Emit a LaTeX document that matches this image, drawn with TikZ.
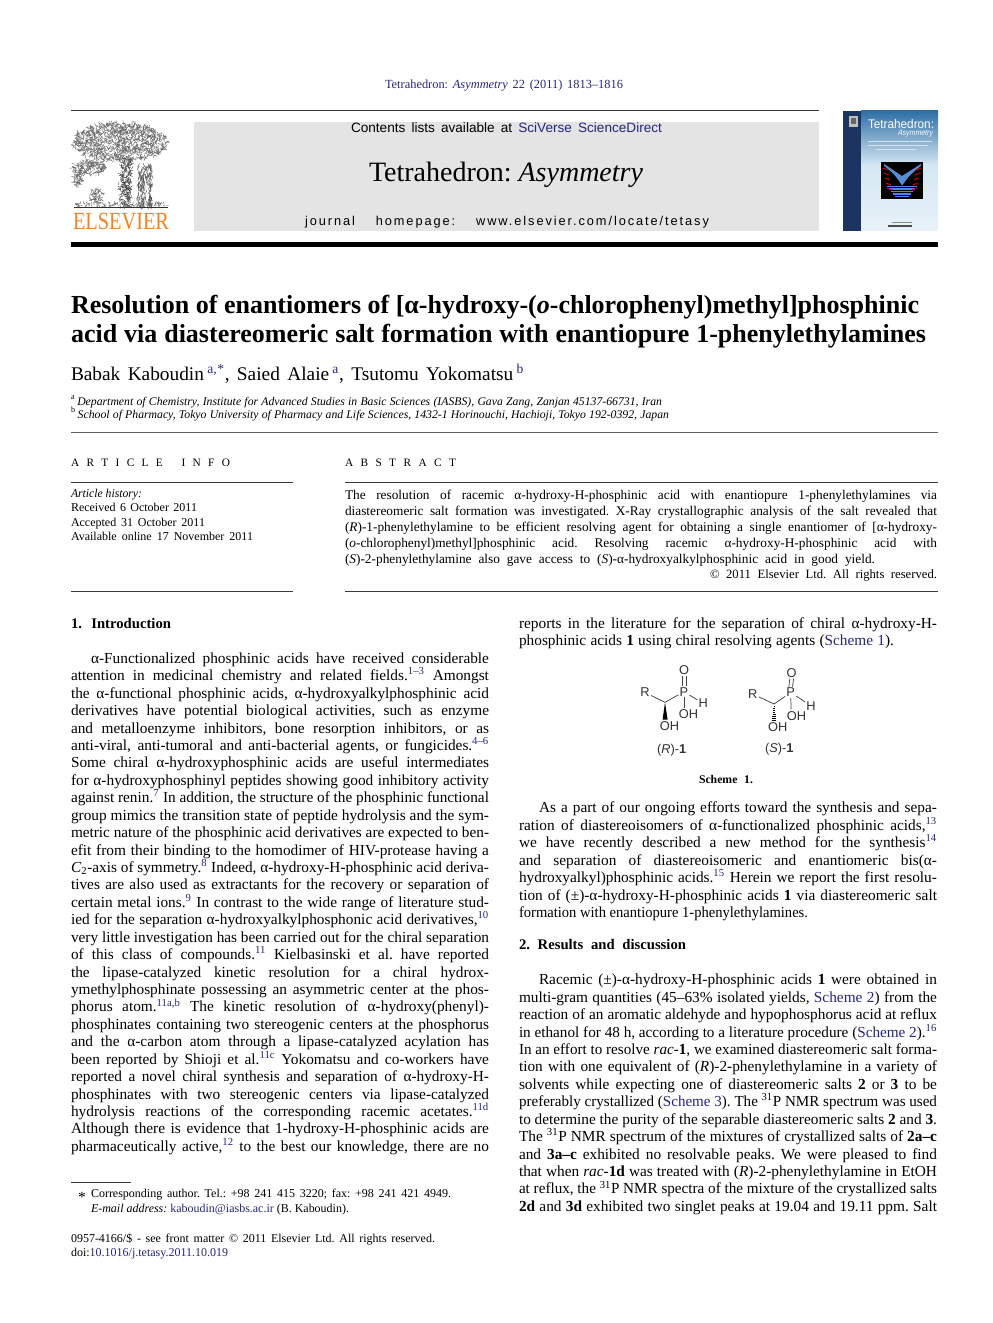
\documentclass[tikz,border=0pt]{standalone}
\usepackage{fontspec}
\usepackage{graphicx}
\setmainfont{Liberation Serif}
\setsansfont{Liberation Sans}
\newfontfamily\spacedsans[LetterSpace=15]{Liberation Sans}
\AtBeginDocument{\frenchspacing}
\definecolor{navy}{HTML}{26267F}
\definecolor{barg}{HTML}{E4E4E4}
\definecolor{rulec}{HTML}{3A3A3A}
\definecolor{elsor}{HTML}{F58220}
\definecolor{cvband}{HTML}{1C3461}
\definecolor{cvtop}{HTML}{2F6FA6}
\definecolor{cvmid}{HTML}{D5E7F3}
\definecolor{cvlow}{HTML}{E8F2F9}
\newcommand{\lk}[1]{\textcolor{navy}{#1}}
\newcommand{\sups}[1]{\textsuperscript{\lk{#1}}}
\newsavebox\lbx
\newcounter{tn}
\def\dy{0}
% \tx{x start}{baseline}{x end}{text}: one printed line fitted between x start and x end
\newcommand{\tx}[4]{%
  \stepcounter{tn}%
  \pgfmathsetlengthmacro\wid{((#3)-(#1))*0.75pt}%
  \node[anchor=base west,inner sep=0pt,outer sep=0pt] (t\arabic{tn}) at ({#1},{#2+\dy}) {%
    \sbox\lbx{#4}%
    \ifdim\wd\lbx>\wid\relax\resizebox{\wid}{\height}{\usebox\lbx}\else\makebox[\wid][s]{#4}\fi};}
\newcommand{\fs}[1]{\fontsize{#1}{#1}\selectfont}
\tikzset{
  rulel/.style={draw=rulec,line width=0.75pt},
  bond/.style={draw=black!75,line width=0.55pt},
  atom/.style={font=\sffamily\fontsize{9.6}{10}\selectfont,inner sep=0.8pt,text=black!80},
  twig/.style={draw=black!62,line width=0.3pt,line cap=round},
}
\begin{document}
\begin{tikzpicture}[x=0.75pt,y=-0.75pt]
\useasboundingbox (0,0) rectangle (992,1323);
\fill[white] (0,0) rectangle (992,1323);

% --- header shapes
\fill[barg] (194,122) rectangle (819,231);
\draw[rulel] (71,111) -- (819,111);
\fill[black] (71,242) rectangle (938,247);
\draw[rulel,draw=rulec!80] (71,432.5) -- (938,432.5);
\draw[rulel,line width=0.5pt] (71,482.5) -- (293,482.5);
\draw[rulel,line width=0.5pt] (345,482.5) -- (938,482.5);
\draw[rulel,line width=0.5pt] (71,591) -- (293,591);
\draw[rulel,line width=0.5pt] (345,591) -- (938,591);
\draw[rulel,line width=0.5pt] (71,1182) -- (131,1182);

% --- Elsevier tree
\pgfmathsetseed{4711}
\foreach \i in {1,...,1100}{
  \pgfmathsetmacro\ang{rnd*360}\pgfmathsetmacro\rr{sqrt(rnd)}
  \pgfmathsetmacro\px{120+48*\rr*cos(\ang)}\pgfmathsetmacro\py{142+19*\rr*sin(\ang)}
  \pgfmathsetmacro\da{rnd*360}
  \draw[twig] (\px,\py) -- ++({3*cos(\da)},{3*sin(\da)});
}
\foreach \i in {1,...,170}{
  \pgfmathsetmacro\ang{rnd*360}\pgfmathsetmacro\rr{sqrt(rnd)}
  \pgfmathsetmacro\px{90+17*\rr*cos(\ang)}\pgfmathsetmacro\py{167+7*\rr*sin(\ang)}
  \pgfmathsetmacro\da{rnd*360}
  \draw[twig] (\px,\py) -- ++({3*cos(\da)},{3*sin(\da)});
}
\foreach \i in {1,...,70}{
  \pgfmathsetmacro\ang{rnd*360}\pgfmathsetmacro\rr{sqrt(rnd)}
  \pgfmathsetmacro\px{78+5*\rr*cos(\ang)}\pgfmathsetmacro\py{178+8*\rr*sin(\ang)}
  \pgfmathsetmacro\da{rnd*360}
  \draw[twig] (\px,\py) -- ++({2.5*cos(\da)},{2.5*sin(\da)});
}
\foreach \i in {1,...,230}{
  \pgfmathsetmacro\px{122+rnd*10-(rnd*3)}\pgfmathsetmacro\py{158+rnd*48}
  \pgfmathsetmacro\da{rnd*360}
  \draw[twig,draw=black!75] (\px,\py) -- ++({3*cos(\da)},{3*sin(\da)});
}
\foreach \i in {1,...,170}{
  \pgfmathsetmacro\px{138+rnd*14}\pgfmathsetmacro\py{163+rnd*43}
  \pgfmathsetmacro\da{60+rnd*60}
  \draw[twig,draw=black!70] (\px,\py) -- ++({4*cos(\da)},{4*sin(\da)});
}
\foreach \i in {1,...,70}{
  \pgfmathsetmacro\ang{rnd*360}\pgfmathsetmacro\rr{sqrt(rnd)}
  \pgfmathsetmacro\px{96+7*\rr*cos(\ang)}\pgfmathsetmacro\py{196+7*\rr*sin(\ang)}
  \pgfmathsetmacro\da{rnd*360}
  \draw[twig] (\px,\py) -- ++({2.5*cos(\da)},{2.5*sin(\da)});
}
\foreach \i in {1,...,120}{
  \pgfmathsetmacro\px{75+rnd*92}\pgfmathsetmacro\py{203+rnd*4}
  \pgfmathsetmacro\da{rnd*180}
  \draw[twig] (\px,\py) -- ++({2*cos(\da)},{-2*sin(\da)});
}
\draw[draw=black!80,line width=0.8pt] (74,207.7) -- (168,207.7);

% --- cover
\fill[top color=cvtop,bottom color=cvmid] (861,111) rectangle (938,165);
\fill[top color=cvmid,bottom color=cvlow] (861,165) rectangle (938,231);
\fill[cvband] (843,111) rectangle (861,231);
\fill[black!25] (849,116) rectangle (858,127);
\fill[black!60] (851,118) rectangle (856,124);
\fill[black] (881,162) rectangle (923,199);
\foreach \k in {0,...,5}{
  \fill[cyan!50!blue!70!white] (884+\k*2,{164+\k*1.5}) -- (902,{176+\k*1.5}) -- (921-\k*2,{164+\k*1.5})
     -- (921-\k*2,{166+\k*1.5}) -- (902,{178+\k*1.5}) -- (884+\k*2,{166+\k*1.5}) -- cycle;
}
\foreach \k in {0,...,4}{
  \fill[blue!70!cyan!70] (887+\k*2,{186+\k*2.5}) rectangle (917-\k*2,{187.3+\k*2.5});
  \draw[red!80!black,line width=0.8pt] (883+\k,{168+\k*5}) -- (888+\k,{170+\k*5});
  \draw[red!80!black,line width=0.8pt] (921-\k,{168+\k*5}) -- (916-\k,{170+\k*5});
}
\draw[white!80!cvtop,line width=0.4pt] (868,141) -- (932,141);
\draw[white!80!cvtop,line width=0.4pt] (868,145) -- (928,145);
\draw[white!80!cvtop,line width=0.4pt] (876,149) -- (916,149);
\draw[black!45,line width=0.5pt] (892,222) -- (912,222);
\draw[black!70,line width=1pt] (888,226) -- (912,226);
\begin{scope}[every node/.append style={text=white}]
\tx{868}{129}{934}{\sffamily\fs{9.4}Tetrahedron:}
\tx{898}{136}{933}{\sffamily\itshape\fs{6}Asymmetry}
\end{scope}
\begin{scope}[every node/.append style={text=elsor}]
\tx{73}{230}{169}{\fs{18.5}ELSEVIER}
\end{scope}

% --- header text
\def\dy{0.7}
\tx{385}{88}{623}{\fs{9.3}\lk{Tetrahedron: \textit{Asymmetry} 22 (2011) 1813--1816}}
\def\dy{0}
\tx{351}{133}{662}{\sffamily\fs{10.2}Contents lists available at \lk{SciVerse ScienceDirect}}
\tx{369}{182}{643}{\fs{21}Tetrahedron: \textit{Asymmetry}}
\tx{305}{226}{709}{\spacedsans\fs{9.6}journal homepage: www.elsevier.com/locate/tetasy}

% --- title block
\tx{71}{313}{919}{\bfseries\fs{19.5}Resolution of enantiomers of [α-hydroxy-(\textit{o}-chlorophenyl)methyl]phosphinic}
\tx{71}{342}{926}{\bfseries\fs{19.5}acid via diastereomeric salt formation with enantiopure 1-phenylethylamines}
\tx{71}{380}{524}{\fs{14.5}Babak Kaboudin\,\sups{a,}\textsuperscript{\lk{*}}, Saied Alaie\,\sups{a}, Tsutomu Yokomatsu\,\sups{b}}
\tx{71}{405}{662}{\fs{8.8}\textsuperscript{a}\,\textit{Department of Chemistry, Institute for Advanced Studies in Basic Sciences (IASBS), Gava Zang, Zanjan 45137-66731, Iran}}
\tx{71}{418}{669}{\fs{8.8}\textsuperscript{b}\,\textit{School of Pharmacy, Tokyo University of Pharmacy and Life Sciences, 1432-1 Horinouchi, Hachioji, Tokyo 192-0392, Japan}}

\def\dy{0.7}
\tx{71}{466}{230}{\fs{8.5}A R T I C L E \quad I N F O}
\tx{345}{466}{456}{\fs{8.5}A B S T R A C T}
\tx{71}{497}{142}{\fs{9}\textit{Article history:}}
\tx{71}{511}{197}{\fs{9}Received 6 October 2011}
\tx{71}{525.5}{205}{\fs{9}Accepted 31 October 2011}
\tx{71}{540}{253}{\fs{9}Available online 17 November 2011}

% --- abstract
\tx{345}{498.5}{937}{\fs{10}The resolution of racemic α-hydroxy-H-phosphinic acid with enantiopure 1-phenylethylamines via}
\tx{345}{514.5}{937}{\fs{10}diastereomeric salt formation was investigated. X-Ray crystallographic analysis of the salt revealed that}
\tx{345}{530.5}{937}{\fs{10}(\textit{R})-1-phenylethylamine to be efficient resolving agent for obtaining a single enantiomer of [α-hydroxy-}
\tx{345}{546.5}{937}{\fs{10}(\textit{o}-chlorophenyl)methyl]phosphinic acid. Resolving racemic α-hydroxy-H-phosphinic acid with}
\tx{345}{562.5}{875}{\fs{10}(\textit{S})-2-phenylethylamine also gave access to (\textit{S})-α-hydroxyalkylphosphinic acid in good yield.}
\tx{710}{577.5}{937}{\fs{9.5}© 2011 Elsevier Ltd. All rights reserved.}

% --- left column
\tx{71}{627.5}{171}{\bfseries\fs{11}1. Introduction}
\begin{scope}[every node/.append style={font=\fontsize{11.5}{14}\selectfont}]
\tx{91}{662.5}{489}{α-Functionalized phosphinic acids have received considerable}
\tx{71}{680}{489}{attention in medicinal chemistry and related fields.\sups{1--3} Amongst}
\tx{71}{697.4}{489}{the α-functional phosphinic acids, α-hydroxyalkylphosphinic acid}
\tx{71}{714.8}{489}{derivatives have potential biological activities, such as enzyme}
\tx{71}{732.3}{489}{and metalloenzyme inhibitors, bone resorption inhibitors, or as}
\tx{71}{749.7}{489}{anti-viral, anti-tumoral and anti-bacterial agents, or fungicides.\sups{4--6}}
\tx{71}{767.1}{489}{Some chiral α-hydroxyphosphinic acids are useful intermediates}
\tx{71}{784.6}{489}{for α-hydroxyphosphinyl peptides showing good inhibitory activity}
\tx{71}{802}{489}{against renin.\sups{7} In addition, the structure of the phosphinic functional}
\tx{71}{819.4}{489}{group mimics the transition state of peptide hydrolysis and the sym-}
\tx{71}{836.9}{489}{metric nature of the phosphinic acid derivatives are expected to ben-}
\tx{71}{854.3}{489}{efit from their binding to the homodimer of HIV-protease having a}
\tx{71}{871.7}{489}{\textit{C}\textsubscript{2}-axis of symmetry.\sups{8} Indeed, α-hydroxy-H-phosphinic acid deriva-}
\tx{71}{889.2}{489}{tives are also used as extractants for the recovery or separation of}
\tx{71}{906.6}{489}{certain metal ions.\sups{9} In contrast to the wide range of literature stud-}
\tx{71}{924}{489}{ied for the separation α-hydroxyalkylphosphonic acid derivatives,\sups{10}}
\tx{71}{941.5}{489}{very little investigation has been carried out for the chiral separation}
\tx{71}{958.9}{489}{of this class of compounds.\sups{11} Kielbasinski et al. have reported}
\tx{71}{976.3}{489}{the lipase-catalyzed kinetic resolution for a chiral hydrox-}
\tx{71}{993.8}{489}{ymethylphosphinate possessing an asymmetric center at the phos-}
\tx{71}{1011.2}{489}{phorus atom.\sups{11a,b} The kinetic resolution of α-hydroxy(phenyl)-}
\tx{71}{1028.6}{489}{phosphinates containing two stereogenic centers at the phosphorus}
\tx{71}{1046.1}{489}{and the α-carbon atom through a lipase-catalyzed acylation has}
\tx{71}{1063.5}{489}{been reported by Shioji et al.\sups{11c} Yokomatsu and co-workers have}
\tx{71}{1080.9}{489}{reported a novel chiral synthesis and separation of α-hydroxy-H-}
\tx{71}{1098.4}{489}{phosphinates with two stereogenic centers via lipase-catalyzed}
\tx{71}{1115.8}{489}{hydrolysis reactions of the corresponding racemic acetates.\sups{11d}}
\tx{71}{1133.2}{489}{Although there is evidence that 1-hydroxy-H-phosphinic acids are}
\tx{71}{1150.7}{489}{pharmaceutically active,\sups{12} to the best our knowledge, there are no}

% --- right column
\tx{519}{627.5}{937}{reports in the literature for the separation of chiral α-hydroxy-H-}
\tx{519}{645}{894}{phosphinic acids \textbf{1} using chiral resolving agents (\lk{Scheme 1}).}
\tx{539}{812}{937}{As a part of our ongoing efforts toward the synthesis and sepa-}
\tx{519}{829.5}{937}{ration of diastereoisomers of α-functionalized phosphinic acids,\sups{13}}
\tx{519}{847}{937}{we have recently described a new method for the synthesis\sups{14}}
\tx{519}{864.4}{937}{and separation of diastereoisomeric and enantiomeric bis(α-}
\tx{519}{881.8}{937}{hydroxyalkyl)phosphinic acids.\sups{15} Herein we report the first resolu-}
\tx{519}{899.3}{937}{tion of (±)-α-hydroxy-H-phosphinic acids \textbf{1} via diastereomeric salt}
\tx{519}{916.7}{808}{formation with enantiopure 1-phenylethylamines.}
\end{scope}
\tx{519}{948.5}{686}{\bfseries\fs{11}2. Results and discussion}
\begin{scope}[every node/.append style={font=\fontsize{11.5}{14}\selectfont}]
\tx{539}{984}{937}{Racemic (±)-α-hydroxy-H-phosphinic acids \textbf{1} were obtained in}
\tx{519}{1001.4}{937}{multi-gram quantities (45--63\% isolated yields, \lk{Scheme 2}) from the}
\tx{519}{1018.8}{937}{reaction of an aromatic aldehyde and hypophosphorus acid at reflux}
\tx{519}{1036.3}{937}{in ethanol for 48 h, according to a literature procedure (\lk{Scheme 2}).\sups{16}}
\tx{519}{1053.7}{937}{In an effort to resolve \textit{rac}-\textbf{1}, we examined diastereomeric salt forma-}
\tx{519}{1071.1}{937}{tion with one equivalent of (\textit{R})-2-phenylethylamine in a variety of}
\tx{519}{1088.6}{937}{solvents while expecting one of diastereomeric salts \textbf{2} or \textbf{3} to be}
\tx{519}{1106}{937}{preferably crystallized (\lk{Scheme 3}). The \textsuperscript{31}P NMR spectrum was used}
\tx{519}{1123.4}{937}{to determine the purity of the separable diastereomeric salts \textbf{2} and \textbf{3}.}
\tx{519}{1140.9}{937}{The \textsuperscript{31}P NMR spectrum of the mixtures of crystallized salts of \textbf{2a--c}}
\tx{519}{1158.3}{937}{and \textbf{3a--c} exhibited no resolvable peaks. We were pleased to find}
\tx{519}{1175.7}{937}{that when \textit{rac}-\textbf{1d} was treated with (\textit{R})-2-phenylethylamine in EtOH}
\tx{519}{1193.2}{937}{at reflux, the \textsuperscript{31}P NMR spectra of the mixture of the crystallized salts}
\tx{519}{1210.6}{937}{\textbf{2d} and \textbf{3d} exhibited two singlet peaks at 19.04 and 19.11 ppm. Salt}
\end{scope}
\def\dy{0}

% --- footer
\tx{78}{1197}{86}{\fs{9}\textasteriskcentered}
\tx{91}{1197}{451}{\fs{9}Corresponding author. Tel.: +98 241 415 3220; fax: +98 241 421 4949.}
\tx{91}{1212}{349}{\fs{9}\textit{E-mail address:} \lk{kaboudin@iasbs.ac.ir} (B. Kaboudin).}
\tx{71}{1242}{435}{\fs{9}0957-4166/\$ - see front matter © 2011 Elsevier Ltd. All rights reserved.}
\tx{71}{1256}{236}{\fs{9}doi:\lk{10.1016/j.tetasy.2011.10.019}}

% --- Scheme 1, (R)-1
\node[atom] (Ra) at (645,692.5) {R};
\coordinate (Ca) at (665,702.3);
\node[atom] (Pa) at (684,691.7) {P};
\node[atom] (Oa) at (684,670) {O};
\node[atom] (Ha) at (703.3,703.5) {H};
\node[atom] (HOa) at (688.5,714.5) {OH};
\node[atom] (COa) at (669.5,725.7) {OH};
\coordinate (Ba) at (684,708);
\coordinate (Wa1) at (662.6,719.5);
\coordinate (Wa2) at (667.6,719.5);
\draw[bond] (Ra) -- (Ca) -- (Pa) -- (Ha);
\draw[bond] (Pa) -- (Ba);
\draw[bond] ([xshift=-1.4pt]Pa.north) -- ([xshift=-1.4pt]Oa.south);
\draw[bond] ([xshift=1.4pt]Pa.north) -- ([xshift=1.4pt]Oa.south);
\fill[black] (Ca) -- (Wa1) -- (Wa2) -- cycle;
\node[font=\sffamily\fontsize{9.6}{10}\selectfont,text=black!80,inner sep=0pt] (La) at (671.7,750) {(\textit{R})-\textbf{1}};

% --- Scheme 1, (S)-1
\node[atom] (Rb) at (752.7,694) {R};
\coordinate (Cb) at (774,704);
\node[atom] (Pb) at (790.7,692.5) {P};
\node[atom] (Ob) at (791.7,672.7) {O};
\node[atom] (Hb) at (811,705.7) {H};
\node[atom] (HOb) at (796.5,716) {OH};
\node[atom] (COb) at (777.7,727.3) {OH};
\coordinate (Bb) at (791,709.5);
\draw[bond] (Rb) -- (Cb) -- (Pb) -- (Hb);
\draw[bond] (Pb) -- (Bb);
\draw[bond] ([xshift=-1.4pt]Pb.north) -- ([xshift=-1.4pt]Ob.south);
\draw[bond] ([xshift=1.4pt]Pb.north) -- ([xshift=1.4pt]Ob.south);
\foreach \k in {1,...,8}{
  \draw[black,line width=0.4pt] ([shift={({-0.3*\k},{\k*2})}]Cb) -- ([shift={({0.3*\k},{\k*2})}]Cb);
}
\node[font=\sffamily\fontsize{9.6}{10}\selectfont,text=black!80,inner sep=0pt] (Lb) at (779.3,749) {(\textit{S})-\textbf{1}};
\tx{699}{783}{753}{\bfseries\fs{8.8}Scheme 1.}
\end{tikzpicture}
\end{document}
